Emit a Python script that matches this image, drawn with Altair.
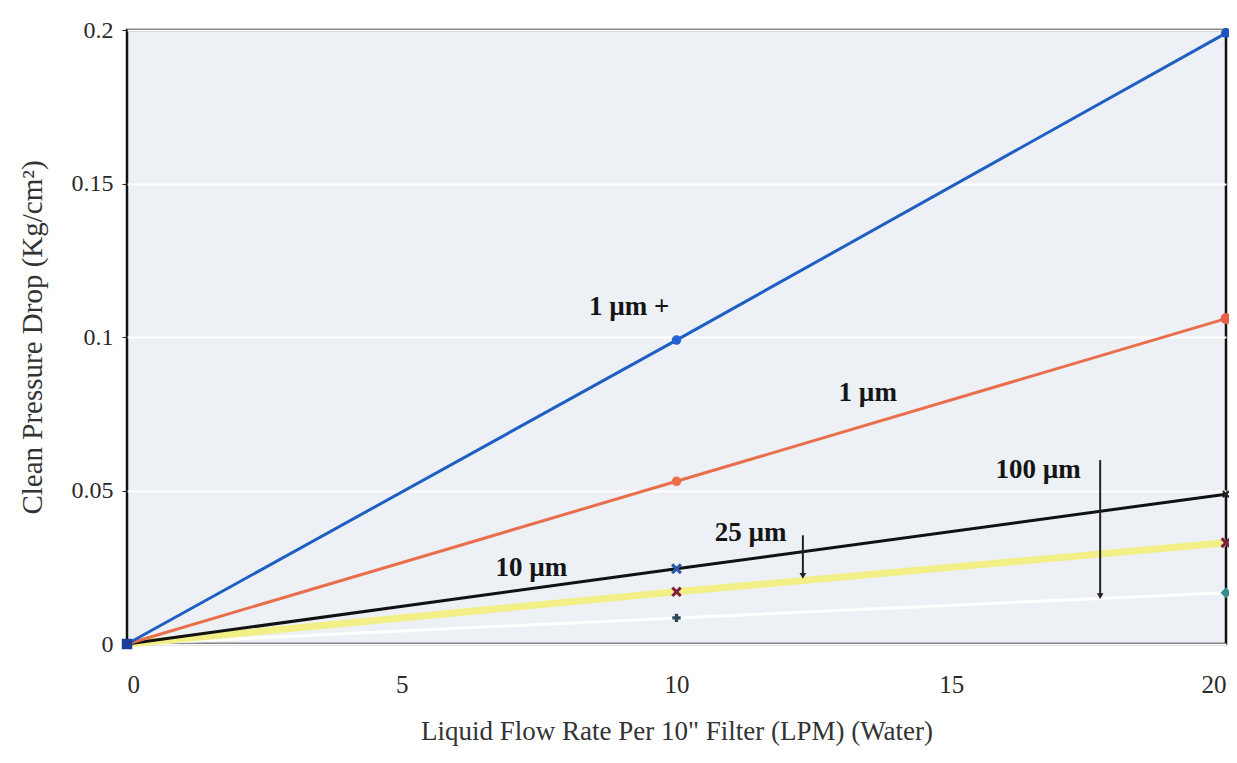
import altair as alt
import pandas as pd

# ---- data ----
flow = [0, 10, 20]
series_names = ["100 µm", "25 µm", "10 µm", "1 µm", "1 µm +"]
drop_100 = [0, 0.0085, 0.0167]
drop_25 = [0, 0.0170, 0.0330]
drop_10 = [0, 0.0245, 0.0488]
drop_1 = [0, 0.0530, 0.1060]
drop_1plus = [0, 0.0990, 0.1990]
series_values = [drop_100, drop_25, drop_10, drop_1, drop_1plus]
line_colors = ["#ffffff", "#f2ef86", "#111111", "#e96f4c", "#1f5fc4"]
line_widths = [3, 7, 3, 3, 3]

# markers
X_PATH = "M-1,-0.6L-0.6,-1L0,-0.4L0.6,-1L1,-0.6L0.4,0L1,0.6L0.6,1L0,0.4L-0.6,1L-1,0.6L-0.4,0Z"
mk_x = [0, 10, 20, 10, 20, 10, 20, 10, 20, 10, 20]
mk_y = [0, 0.099, 0.199, 0.053, 0.106, 0.0245, 0.0488, 0.017, 0.033, 0.0085, 0.0167]
mk_shape = ["square", "circle", "circle", "circle", "circle", X_PATH, X_PATH, X_PATH, X_PATH, "cross", "diamond"]
mk_color = ["#1d3d98", "#2563d2", "#2153c0", "#ea7048", "#e8604a", "#2a5ca8", "#222222",
            "#7a2040", "#7a2040", "#2c4a5c", "#3a8c8c"]
mk_size = [110, 90, 100, 90, 120, 120, 60, 110, 120, 70, 120]

# annotations
lab_text = ["1 µm +", "1 µm", "10 µm", "25 µm", "100 µm"]
lab_x = [9.14, 13.48, 7.36, 11.35, 16.58]
lab_y = [0.1097, 0.0818, 0.0249, 0.0363, 0.0566]
arrow_x = [12.30, 17.71]
arrow_top = [0.0354, 0.0599]
arrow_bottom = [0.0222, 0.0156]

SERIF = "Liberation Serif"

xscale = alt.Scale(domain=[0, 20], nice=False)
yscale = alt.Scale(domain=[0, 0.2], nice=False)

xaxis = alt.Axis(values=[0, 5, 10, 15, 20], title='Liquid Flow Rate Per 10" Filter  (LPM) (Water)',
                 grid=False, ticks=False, labelPadding=28, titlePadding=21, domain=False,
                 titleFontSize=27, labelFontSize=25)
yaxis = alt.Axis(values=[0, 0.05, 0.1, 0.15, 0.2], format="~g", title="Clean Pressure Drop (Kg/cm²)",
                 grid=True, gridColor="#ffffff", gridWidth=2, tickSize=5, labelPadding=9,
                 titlePadding=24, domain=False, titleFontSize=29, labelFontSize=24)

layers = []
for i, (name, vals) in enumerate(zip(series_names, series_values)):
    df = pd.DataFrame({"flow": flow, "drop": vals, "series": name})
    enc = dict(x=alt.X("flow:Q", scale=xscale, axis=xaxis), y=alt.Y("drop:Q", scale=yscale, axis=yaxis)) \
        if i == 0 else dict(x=alt.X("flow:Q", scale=xscale), y=alt.Y("drop:Q", scale=yscale))
    layers.append(alt.Chart(df).mark_line(color=line_colors[i], strokeWidth=line_widths[i]).encode(**enc))

mk_df = pd.DataFrame({"flow": mk_x, "drop": mk_y, "shape": mk_shape, "color": mk_color, "size": mk_size})
points = alt.Chart(mk_df).mark_point(filled=True, opacity=1).encode(
    x=alt.X("flow:Q", scale=xscale),
    y=alt.Y("drop:Q", scale=yscale),
    shape=alt.Shape("shape:N", scale=None),
    color=alt.Color("color:N", scale=None),
    size=alt.Size("size:Q", scale=None),
)

lab_df = pd.DataFrame({"flow": lab_x, "drop": lab_y, "text": lab_text})
labels = alt.Chart(lab_df).mark_text(font=SERIF, fontSize=27, fontWeight="bold", color="#151515",
                                     align="center", baseline="middle").encode(
    x=alt.X("flow:Q", scale=xscale), y=alt.Y("drop:Q", scale=yscale), text="text:N")

arr_df = pd.DataFrame({"flow": arrow_x, "top": arrow_top, "bottom": arrow_bottom})
arrow_lines = alt.Chart(arr_df).mark_rule(color="#222222", strokeWidth=2).encode(
    x=alt.X("flow:Q", scale=xscale), y=alt.Y("top:Q", scale=yscale), y2="bottom:Q")
arrow_heads = alt.Chart(arr_df).mark_point(shape="triangle-down", filled=True, color="#222222",
                                           size=45, opacity=1).encode(
    x=alt.X("flow:Q", scale=xscale), y=alt.Y("bottom:Q", scale=yscale))

chart = alt.layer(*layers, points, arrow_lines, arrow_heads, labels).properties(
    width=1099, height=614,
    autosize=alt.AutoSizeParams(type="none"),
    padding={"left": 119, "top": 22, "right": 3, "bottom": 104},
    background="#ffffff",
).configure_view(
    fill="#edf0f5", stroke="#111111", strokeWidth=2.5
).configure_axis(
    labelFont=SERIF, labelColor="#2a2a2a",
    titleFont=SERIF, titleFontWeight="normal", titleColor="#333333",
    tickColor="#222222",
)

chart.save("out.html", embed_options={"renderer": "svg", "actions": False})
